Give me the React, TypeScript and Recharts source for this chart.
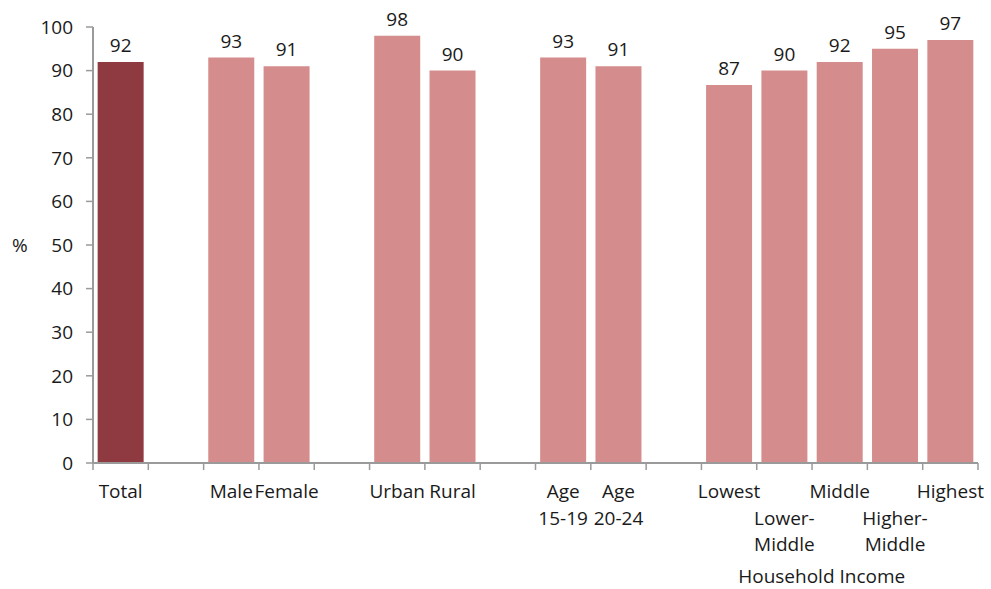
import { BarChart, Bar, XAxis, YAxis, Cell, LabelList } from "recharts";

// slots with an empty name are the spacers between groups
const categories = [
  "Total", "", "Male", "Female", "", "Urban", "Rural", "",
  "Age\n15-19", "Age\n20-24", "",
  "Lowest", "Lower-\nMiddle", "Middle", "Higher-\nMiddle", "Highest",
];
const values = [92, null, 93, 91, null, 98, 90, null, 93, 91, null, 86.7, 90, 92, 95, 97];
const labelRow = [0, 0, 0, 0, 0, 0, 0, 0, 0, 0, 0, 0, 1, 0, 1, 0];
const highlighted = ["Total"];
const yTicks = [0, 10, 20, 30, 40, 50, 60, 70, 80, 90, 100];
const groupLabel = "Household Income";
const groupLabelAt = 13;

const data = categories.map((name, i) => ({
  id: `c${i}`,
  name,
  value: values[i],
}));

const WIDTH = 991;
const HEIGHT = 589;
const MARGIN = { top: 27, right: 13, bottom: 6, left: 0 };
const Y_AXIS_W = 93;
const BAND = (WIDTH - MARGIN.left - MARGIN.right - Y_AXIS_W) / categories.length;

const TEXT = "#1a1a1a";
const AXIS = "#9a9a9a";
const DARK = "#8E3A40";
const LIGHT = "#D48D8C";
const FONT = 19;

function CategoryTick(props: any) {
  const { x, y, payload } = props;
  const i = payload.index;
  const lines = categories[i].split("\n");
  const row = labelRow[i];
  const last = i === categories.length - 1;
  return (
    <g>
      <line x1={x - BAND / 2} x2={x - BAND / 2} y1={y} y2={y + 7} stroke={AXIS} strokeWidth={1.5} />
      {last && (
        <line x1={x + BAND / 2} x2={x + BAND / 2} y1={y} y2={y + 7} stroke={AXIS} strokeWidth={1.5} />
      )}
      {lines.map((l, k) =>
        l ? (
          <text key={k} x={x} y={y + 35 + (row + k) * 26.5} textAnchor="middle" fontSize={FONT} fill={TEXT}>
            {l}
          </text>
        ) : null
      )}
      {i === groupLabelAt && (
        <text x={x - 18} y={y + 120} textAnchor="middle" fontSize={FONT} fill={TEXT}>
          {groupLabel}
        </text>
      )}
    </g>
  );
}

export default function App() {
  return (
    <div style={{ position: "absolute", left: 0, top: 0, width: WIDTH, height: HEIGHT, background: "#fff", fontFamily: "'Open Sans', sans-serif" }}>
      <BarChart width={WIDTH} height={HEIGHT} data={data} margin={MARGIN} barCategoryGap="8.4%">
        <YAxis
          width={Y_AXIS_W}
          domain={[0, 100]}
          ticks={yTicks}
          interval={0}
          tickSize={7}
          tickMargin={13}
          axisLine={{ stroke: AXIS, strokeWidth: 2 }}
          tickLine={{ stroke: AXIS, strokeWidth: 1.5 }}
          tick={{ fontSize: FONT, fill: TEXT }}
          label={{ value: "%", position: "insideLeft", offset: 12, fontSize: FONT, fill: TEXT }}
        />
        <XAxis
          dataKey="id"
          height={120}
          interval={0}
          tickSize={0}
          tickMargin={0}
          tickLine={false}
          axisLine={{ stroke: AXIS, strokeWidth: 2 }}
          tick={<CategoryTick />}
        />
        <Bar dataKey="value" isAnimationActive={false}>
          {data.map((d) => (
            <Cell key={d.id} fill={highlighted.includes(d.name) ? DARK : LIGHT} />
          ))}
          <LabelList
            dataKey="value"
            position="top"
            offset={10}
            formatter={(v: any) => (v == null ? "" : Math.round(v))}
            style={{ fontSize: FONT, fill: TEXT }}
          />
        </Bar>
      </BarChart>
    </div>
  );
}
